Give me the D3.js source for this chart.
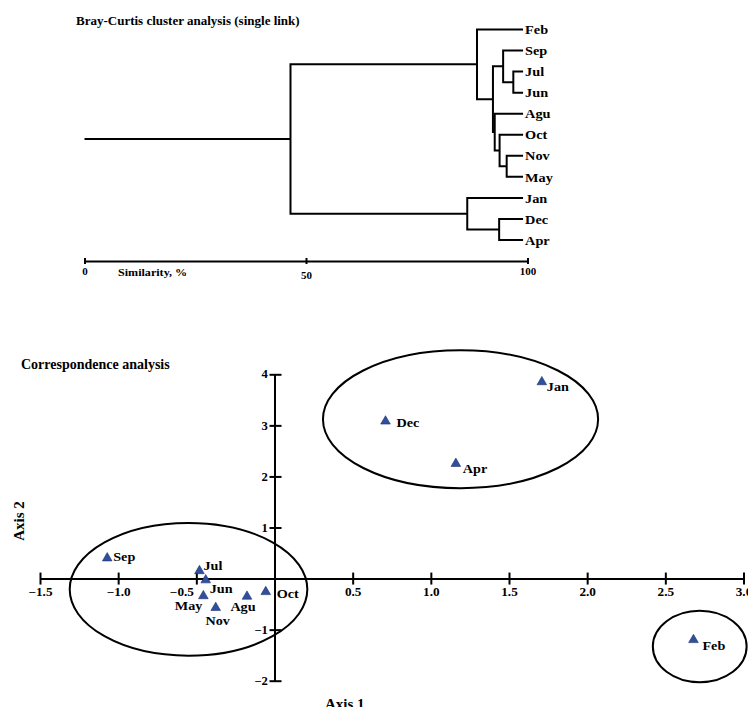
<!DOCTYPE html>
<html>
<head>
<meta charset="UTF-8">
<script src="https://d3js.org/d3.v7.min.js"></script>
<style>
    body { margin: 0; background: #fff; }
    svg { display: block; }
    text { font-family: "Liberation Serif", "Times New Roman", serif; font-weight: bold; fill: #000; }
</style>
</head>
<body>
<svg width="748" height="707"></svg>
<script>
    // ---- dendrogram data ----
    const leafOrder = ["Feb", "Sep", "Jul", "Jun", "Agu", "Oct", "Nov", "May", "Jan", "Dec", "Apr"];
    // [child A, child B, similarity %, node id]
    const merges = [
        ["Jul", "Jun", 96.8, "n1"],
        ["Sep", "n1", 94.5, "n2"],
        ["Nov", "May", 95.3, "n3"],
        ["Oct", "n3", 93.7, "n4"],
        ["Agu", "n4", 92.6, "n5"],
        ["n2", "n5", 92.2, "n6"],
        ["Feb", "n6", 88.6, "n7"],
        ["Dec", "Apr", 93.6, "n8"],
        ["Jan", "n8", 86.4, "n9"],
        ["n7", "n9", 46.5, "root"]
    ];
    const leafLevel = 99;
    const simTicks = [0, 50, 100];

    // ---- correspondence analysis data ----
    const caMonths = ["Jan", "Dec", "Apr", "Sep", "Jul", "Jun", "May", "Nov", "Agu", "Oct", "Feb"];
    const axis1 = [1.71, 0.71, 1.16, -1.07, -0.48, -0.44, -0.455, -0.376, -0.176, -0.056, 2.68];
    const axis2 = [3.85, 3.08, 2.25, 0.40, 0.15, -0.03, -0.34, -0.57, -0.35, -0.26, -1.20];
    const axis1Ticks = [-1.5, -1.0, -0.5, 0.5, 1.0, 1.5, 2.0, 2.5, 3.0];
    const axis2Ticks = [-2, -1, 1, 2, 3, 4];
    // groups circled on the plot: centre and radii in axis units
    const groupCx = [1.19, -0.55, 2.72];
    const groupCy = [3.12, -0.21, -1.33];
    const groupRx = [0.88, 0.76, 0.30];
    const groupRy = [1.35, 1.30, 0.70];

    // label placement for the CA points (pixels)
    const labelPos = {
        Jan: [5, 4, "start"], Dec: [11, 1, "start"], Apr: [7, 4, "start"],
        Sep: [6, -2, "start"], Jul: [4, -6, "start"], Jun: [4, 8, "start"],
        May: [-1, 9, "end"], Nov: [2, 12, "middle"], Agu: [-4, 10, "middle"],
        Oct: [11, 1, "start"], Feb: [9, 5, "start"]
    };

    const svg = d3.select("svg");

    // text drawn a little wider than the font, like the original figure
    function wideText(sel, x, y, sx) {
        return sel.attr("transform", `translate(${x},${y}) scale(${sx},1)`);
    }

    // ================= dendrogram =================
    const xs = d3.scaleLinear().domain([0, 100]).range([84.5, 527.5]);
    const ys = d3.scalePoint().domain(leafOrder).range([29.5, 240]);

    const nodes = {};
    leafOrder.forEach(m => nodes[m] = {name: m, sim: leafLevel});
    merges.forEach(([a, b, s, id]) => {
        nodes[id] = {name: id, sim: s, children: [nodes[a], nodes[b]]};
    });
    const root = d3.hierarchy(nodes.root);
    root.eachAfter(d => {
        d.py = d.children ? d3.mean(d.children, c => c.py) : ys(d.data.name);
    });

    const dendro = svg.append("g");
    root.descendants().filter(d => d.children).forEach(d => {
        const [c1, c2] = d.children;
        const xp = xs(d.data.sim);
        dendro.append("path")
            .attr("d", `M${xs(c1.data.sim)},${c1.py}H${xp}V${c2.py}H${xs(c2.data.sim)}`)
            .attr("fill", "none")
            .attr("stroke", "#000")
            .attr("stroke-width", 2);
    });
    dendro.append("line")
        .attr("x1", xs(0)).attr("x2", xs(root.data.sim))
        .attr("y1", root.py).attr("y2", root.py)
        .attr("stroke", "#000").attr("stroke-width", 2);

    dendro.selectAll("text.leaf")
        .data(root.leaves())
        .enter().append("text")
        .attr("class", "leaf")
        .attr("transform", d => `translate(${xs(leafLevel) + 2},${d.py}) scale(1.1,1)`)
        .attr("dy", "0.36em")
        .style("font-size", "13px")
        .text(d => d.data.name);

    const simAxis = svg.append("g")
        .attr("transform", "translate(0,261)")
        .call(d3.axisBottom(xs).tickValues(simTicks).tickSizeOuter(0).tickFormat(d3.format("d")));
    simAxis.select(".domain").attr("stroke-width", 2);
    simAxis.selectAll(".tick line").attr("y1", -3).attr("y2", 3).attr("stroke-width", 2);
    simAxis.selectAll(".tick text")
        .attr("y", d => d === 50 ? 18 : 14).attr("dy", 0)
        .attr("transform", "scale(1.1,1)")
        .style("font-size", "10px")
        .style("font-family", "Liberation Serif, serif")
        .style("font-weight", "bold");

    wideText(svg.append("text"), 118, 276, 1.1)
        .style("font-size", "11px")
        .text("Similarity, %");

    svg.append("text")
        .attr("x", 76).attr("y", 25)
        .style("font-size", "13px")
        .text("Bray-Curtis cluster analysis (single link)");

    // ================= correspondence analysis =================
    const x = d3.scaleLinear().domain([-1.5, 3]).range([40, 743.5]);
    const y = d3.scaleLinear().domain([-2, 4]).range([680.7, 374.3]);

    const xAxis = svg.append("g")
        .attr("transform", `translate(0,${y(0)})`)
        .call(d3.axisBottom(x).tickValues(axis1Ticks).tickSizeOuter(0).tickFormat(d3.format(".1f")));
    xAxis.select(".domain").attr("stroke-width", 2);
    xAxis.selectAll(".tick line").attr("y1", -6).attr("y2", 6).attr("stroke-width", 2);
    xAxis.selectAll(".tick text")
        .attr("y", 17).attr("dy", 0)
        .attr("x", d => d === -0.5 ? -13 : 0)
        .attr("transform", "scale(1.15,1)")
        .style("font-size", "11.5px")
        .style("font-family", "Liberation Serif, serif")
        .style("font-weight", "bold");

    const yAxis = svg.append("g")
        .attr("transform", `translate(${x(0)},0)`)
        .call(d3.axisLeft(y).tickValues(axis2Ticks).tickSizeOuter(0).tickFormat(d3.format("d")));
    yAxis.select(".domain").attr("stroke-width", 2);
    yAxis.selectAll(".tick line").attr("x1", -5).attr("x2", 7).attr("stroke-width", 2);
    yAxis.selectAll(".tick text")
        .attr("x", -6)
        .attr("transform", "scale(1.1,1)")
        .style("font-size", "11.5px")
        .style("font-family", "Liberation Serif, serif")
        .style("font-weight", "bold");

    svg.selectAll("ellipse.group")
        .data(groupCx)
        .enter().append("ellipse")
        .attr("class", "group")
        .attr("cx", d => x(d))
        .attr("cy", (d, i) => y(groupCy[i]))
        .attr("rx", (d, i) => x(groupRx[i]) - x(0))
        .attr("ry", (d, i) => y(0) - y(groupRy[i]))
        .attr("fill", "none")
        .attr("stroke", "#000")
        .attr("stroke-width", 2);

    const pts = caMonths.map((m, i) => ({name: m, a1: axis1[i], a2: axis2[i]}));

    svg.selectAll("path.pt")
        .data(pts)
        .enter().append("path")
        .attr("class", "pt")
        .attr("transform", d => `translate(${x(d.a1)},${y(d.a2)})`)
        .attr("d", d3.symbol().type(d3.symbolTriangle).size(40))
        .attr("fill", "#2f4f9f")
        .attr("stroke", "#1d2f6a")
        .attr("stroke-width", 0.6);

    svg.selectAll("text.pt")
        .data(pts)
        .enter().append("text")
        .attr("class", "pt")
        .attr("transform", d => `translate(${x(d.a1) + labelPos[d.name][0]},${y(d.a2) + labelPos[d.name][1]}) scale(1.05,1)`)
        .attr("dy", "0.36em")
        .attr("text-anchor", d => labelPos[d.name][2])
        .style("font-size", "13.5px")
        .text(d => d.name);

    svg.append("text")
        .attr("x", 21).attr("y", 369)
        .style("font-size", "14px")
        .text("Correspondence  analysis");

    svg.append("text")
        .attr("x", 325).attr("y", 709)
        .style("font-size", "15px")
        .text("Axis 1");

    svg.append("text")
        .attr("transform", "translate(24,521) rotate(-90)")
        .attr("text-anchor", "middle")
        .style("font-size", "15px")
        .text("Axis 2");
</script>
</body>
</html>
